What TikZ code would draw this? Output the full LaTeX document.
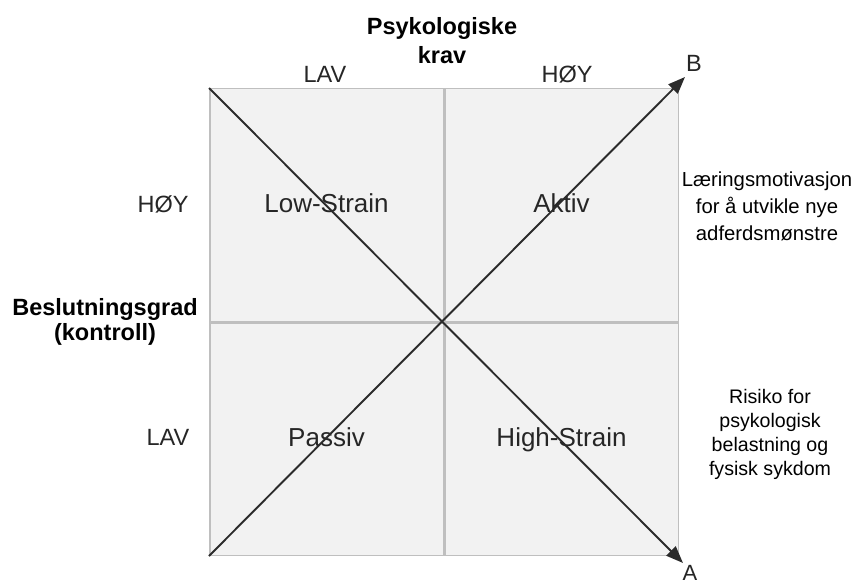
\documentclass[tikz,border=0pt]{standalone}
\usepackage{fontspec}
\setmainfont{Liberation Sans}
\usetikzlibrary{arrows.meta}
\definecolor{boxfill}{HTML}{F2F2F2}
\definecolor{boxline}{HTML}{BFBFBF}
\definecolor{diagline}{HTML}{2B2B2B}
\tikzset{
  quad/.style={draw=boxline, fill=boxfill, line width=1.5pt, minimum width=233.5pt,
    minimum height=232.5pt, inner sep=0pt, anchor=north west, text height=15pt,
    text depth=0pt, font=\fontsize{26}{30}\selectfont, text=black!85},
  diag/.style={draw=diagline, line width=1.9pt, -{Triangle[length=17pt,width=13pt]}},
  lbl/.style={font=\fontsize{23.5}{28}\selectfont, text=black!85, inner sep=0pt},
  head/.style={font=\bfseries\fontsize{23.5}{29}\selectfont, align=center, inner sep=0pt},
  note/.style={font=\fontsize{20.3}{27}\selectfont, align=center, inner sep=0pt}
}
\begin{document}
\begin{tikzpicture}[x=1pt, y=-1pt]
\useasboundingbox (0,0) rectangle (861,583);
% the four fields
\node [quad] (lowstrain) at (209,88) {Low-Strain};
\node [quad] (aktiv) at (lowstrain.north east) {Aktiv};
\node [quad] (passiv) at (lowstrain.south west) {Passiv};
\node [quad] (highstrain) at (lowstrain.south east) {High-Strain};
% diagonals
\coordinate (tipA) at (683,563);
\coordinate (tipB) at (685,77);
\draw [diag] (lowstrain.north west) -- (tipA);
\draw [diag] (passiv.south west) -- (tipB);
\node [lbl, anchor=base, font=\fontsize{22}{26}\selectfont] (labA) at (690,580) {A};
\node [lbl, anchor=base] (labB) at (694,72) {B};
% axis labels
\node [head] (krav) at (442,41) {Psykologiske\\krav};
\node [lbl, anchor=base] (kravlav) at (325,83) {LAV};
\node [lbl, anchor=base] (kravhoy) at (567,83) {HØY};
\node [head, font=\bfseries\fontsize{23.5}{25}\selectfont] (kontroll) at (105,321.5) {Beslutningsgrad\\(kontroll)};
\node [lbl, anchor=base] (kontrollhoy) at (163,212) {HØY};
\node [lbl, anchor=base] (kontrolllav) at (168,445) {LAV};
% notes on the right
\node [note] (laering) at (767,206.5) {Læringsmotivasjon\\for å utvikle nye\\adferdsmønstre};
\node [note, font=\fontsize{19.6}{24}\selectfont] (risiko) at (770,434.5) {Risiko for\\psykologisk\\belastning og\\fysisk sykdom};
\end{tikzpicture}
\end{document}
